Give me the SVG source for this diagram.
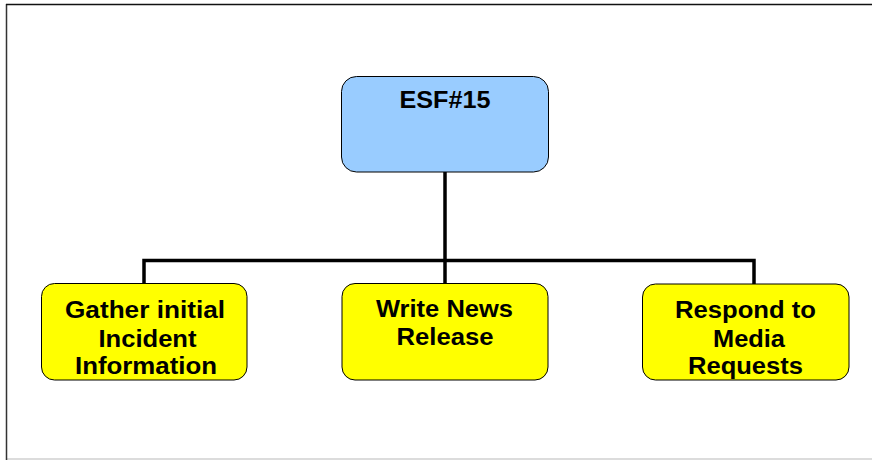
<svg xmlns="http://www.w3.org/2000/svg" width="872" height="460" viewBox="0 0 872 460">
<style>
.node rect{stroke:#000;stroke-width:1}
.blue{fill:#99CCFF}
.yellow{fill:#FFFF00}
text{font-family:"Liberation Sans",Arial,sans-serif;font-weight:bold;font-size:23px;fill:#000;text-anchor:middle}
.conn{stroke:#000;stroke-width:3.5;fill:none}
</style>
<rect x="0" y="0" width="872" height="460" fill="#fff"/>
<g id="frame">
<line x1="6" y1="459" x2="872" y2="459" stroke="#d0d0d0" stroke-width="1.5"/>
<line x1="6.5" y1="4" x2="6.5" y2="460" stroke="#333" stroke-width="1.5"/>
<line x1="6" y1="4.5" x2="872" y2="4.5" stroke="#111" stroke-width="1.5"/>
</g>
<g id="connectors">
<path class="conn" d="M445 172 V283"/>
<path class="conn" d="M144 283 V260.5 H754 V284"/>
</g>
<g id="esf15" class="node">
<rect class="blue" x="341.5" y="76.5" width="207" height="95.5" rx="15"/>
<text x="445" y="108" textLength="91" lengthAdjust="spacingAndGlyphs">ESF#15</text>
</g>
<g id="gather" class="node">
<rect class="yellow" x="41.5" y="283.5" width="205.5" height="96.5" rx="13"/>
<text x="145" y="318" textLength="160" lengthAdjust="spacingAndGlyphs">Gather initial</text>
<text x="147.5" y="346.5" textLength="98" lengthAdjust="spacingAndGlyphs">Incident</text>
<text x="146" y="374" textLength="142" lengthAdjust="spacingAndGlyphs">Information</text>
</g>
<g id="write" class="node">
<rect class="yellow" x="342" y="283.5" width="206" height="96.5" rx="13"/>
<text x="444.5" y="317" textLength="137" lengthAdjust="spacingAndGlyphs">Write News</text>
<text x="445" y="345" textLength="97" lengthAdjust="spacingAndGlyphs">Release</text>
</g>
<g id="respond" class="node">
<rect class="yellow" x="642.5" y="284" width="206.5" height="96" rx="13"/>
<text x="745.5" y="318" textLength="141" lengthAdjust="spacingAndGlyphs">Respond to</text>
<text x="749" y="346.5" textLength="72" lengthAdjust="spacingAndGlyphs">Media</text>
<text x="745.5" y="374" textLength="115" lengthAdjust="spacingAndGlyphs">Requests</text>
</g>
</svg>
